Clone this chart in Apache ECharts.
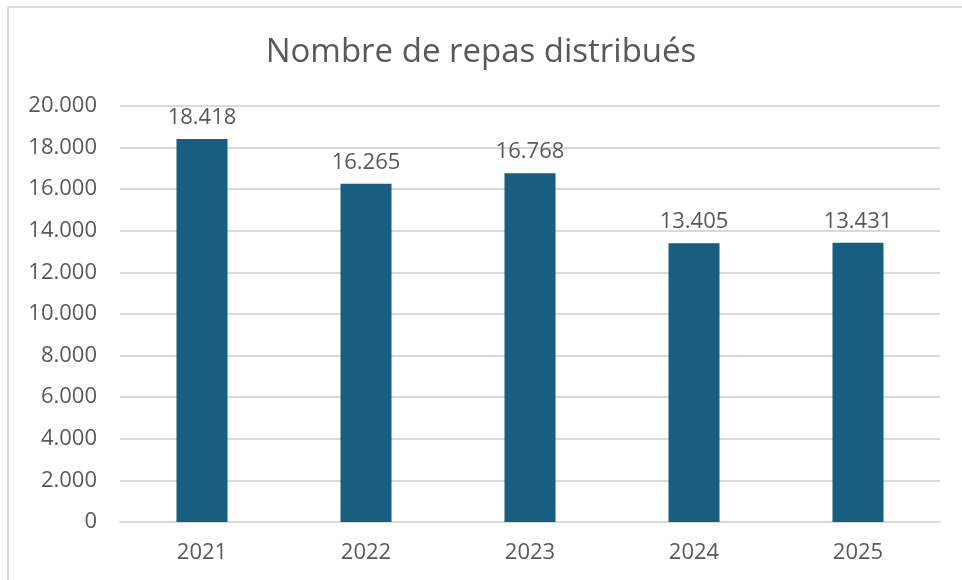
<!DOCTYPE html>
<html>
<head>
<meta charset="utf-8">
<script src="https://cdn.jsdelivr.net/npm/echarts@6/dist/echarts.min.js"></script>
<style>
  html, body { margin: 0; padding: 0; background: #fff; }
  #chart { width: 962px; height: 580px; }
</style>
</head>
<body>
<div id="chart"></div>
<script>
// données
const years = ['2021', '2022', '2023', '2024', '2025'];
const repas = [18418, 16265, 16768, 13405, 13431];

const fmt = v => String(v).replace(/\B(?=(\d{3})+(?!\d))/g, '.');

const chart = echarts.init(document.getElementById('chart'));
const option = {
  backgroundColor: '#fff',
  textStyle: { fontFamily: '"Open Sans", sans-serif' },
  title: {
    text: 'Nombre de repas distribués',
    left: 'center',
    top: 31,
    textStyle: { fontSize: 33, fontWeight: 'normal', color: '#595959' }
  },
  graphic: [
    { type: 'line', shape: { x1: 8, y1: 7, x2: 962, y2: 7 }, style: { stroke: '#d9d9d9', lineWidth: 2 } },
    { type: 'line', shape: { x1: 8, y1: 7, x2: 8, y2: 580 }, style: { stroke: '#d9d9d9', lineWidth: 2 } }
  ],
  grid: { left: 120, right: 22, top: 106, bottom: 58, containLabel: false },
  xAxis: {
    type: 'category',
    data: years,
    axisLine: { lineStyle: { color: '#d9d9d9', width: 2 } },
    axisTick: { show: false },
    axisLabel: { color: '#595959', fontSize: 22, margin: 20 }
  },
  yAxis: {
    type: 'value',
    min: 0,
    max: 20000,
    interval: 2000,
    axisLine: { show: false },
    axisTick: { show: false },
    splitLine: { lineStyle: { color: '#d9d9d9', width: 2 } },
    axisLabel: { color: '#595959', fontSize: 22, margin: 23, formatter: fmt }
  },
  series: [{
    type: 'bar',
    data: repas,
    barWidth: 51,
    itemStyle: { color: '#175e80' },
    label: {
      show: true,
      position: 'top',
      distance: 10,
      color: '#595959',
      fontSize: 22,
      formatter: p => fmt(p.value)
    }
  }]
};
chart.setOption(option);
window.addEventListener('resize', () => chart.resize());
</script>
</body>
</html>
